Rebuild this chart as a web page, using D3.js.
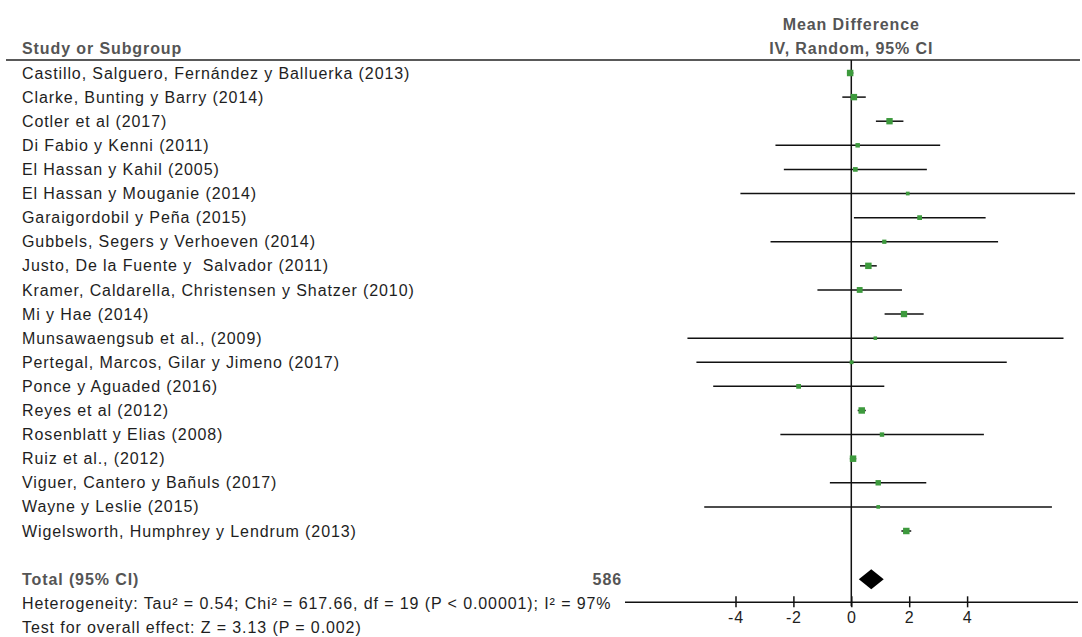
<!DOCTYPE html>
<html>
<head>
<meta charset="utf-8">
<script src="https://cdn.jsdelivr.net/npm/d3@7"></script>
<style>
  html, body { margin: 0; padding: 0; background: #fff; }
  svg { display: block; }
  text { font-family: "Liberation Sans", Arial, sans-serif; font-size: 16px; letter-spacing: 0.9px; fill: #1e1e1e; white-space: pre; }
  .hdr { font-weight: bold; fill: #555; }
</style>
</head>
<body>
<svg id="chart" width="1082" height="637"></svg>
<script>
const studies = [
  "Castillo, Salguero, Fernández y Balluerka (2013)",
  "Clarke, Bunting y Barry (2014)",
  "Cotler et al (2017)",
  "Di Fabio y Kenni (2011)",
  "El Hassan y Kahil (2005)",
  "El Hassan y Mouganie (2014)",
  "Garaigordobil y Peña (2015)",
  "Gubbels, Segers y Verhoeven (2014)",
  "Justo, De la Fuente y  Salvador (2011)",
  "Kramer, Caldarella, Christensen y Shatzer (2010)",
  "Mi y Hae (2014)",
  "Munsawaengsub et al., (2009)",
  "Pertegal, Marcos, Gilar y Jimeno (2017)",
  "Ponce y Aguaded (2016)",
  "Reyes et al (2012)",
  "Rosenblatt y Elias (2008)",
  "Ruiz et al., (2012)",
  "Viguer, Cantero y Bañuls (2017)",
  "Wayne y Leslie (2015)",
  "Wigelsworth, Humphrey y Lendrum (2013)"
];
const meanDiff = [-0.04, 0.09, 1.32, 0.22, 0.14, 1.95, 2.36, 1.14, 0.59, 0.29, 1.82, 0.83, 0.01, -1.82, 0.36, 1.06, 0.06, 0.93, 0.93, 1.90];
const ciLower  = [-0.15, -0.31, 0.85, -2.62, -2.33, -3.83, 0.09, -2.79, 0.30, -1.17, 1.15, -5.66, -5.35, -4.77, 0.22, -2.45, -0.05, -0.74, -5.08, 1.73];
const ciUpper  = [0.07, 0.50, 1.80, 3.07, 2.61, 7.73, 4.64, 5.07, 0.88, 1.75, 2.50, 7.33, 5.37, 1.14, 0.50, 4.58, 0.17, 2.59, 6.93, 2.07];
const weights  = [7.9, 7.7, 7.5, 2.4, 2.8, 1.2, 3.0, 2.0, 7.8, 5.8, 7.3, 0.9, 1.3, 3.0, 7.9, 2.3, 8.0, 4.6, 1.1, 7.9];
const total = { label: "Total (95% CI)", n: "586", md: 0.69, lo: 0.26, hi: 1.12 };
const heterogeneityText = "Heterogeneity: Tau² = 0.54; Chi² = 617.66, df = 19 (P < 0.00001); I² = 97%";
const overallText = "Test for overall effect: Z = 3.13 (P = 0.002)";
const tickValues = [-4, -2, 0, 2, 4];
const tickLabels = ["-4", "-2", "0", "2", "4"];

const svg = d3.select("#chart");
const x = d3.scaleLinear().domain([-4, 4]).range([735.5, 967.1]);
const y = d3.scaleLinear().domain([0, 19]).range([73, 531]);
const textX = 22;
const axisY = y(22) - 1;

// Header
svg.append("text").attr("class", "hdr").attr("x", x(0)).attr("y", 24).attr("dy", "0.35em")
  .attr("text-anchor", "middle").text("Mean Difference");
svg.append("text").attr("class", "hdr").attr("x", x(0)).attr("y", 48).attr("dy", "0.35em")
  .attr("text-anchor", "middle").text("IV, Random, 95% CI");
svg.append("text").attr("class", "hdr").attr("x", textX).attr("y", 48).attr("dy", "0.35em")
  .text("Study or Subgroup");
svg.append("line").attr("x1", 6).attr("x2", 1080).attr("y1", 60).attr("y2", 60)
  .attr("stroke", "#222").attr("stroke-width", 1.5);

// Study labels
svg.append("g").selectAll("text").data(studies).join("text")
  .attr("x", textX).attr("y", (d, i) => y(i)).attr("dy", "0.35em").text(d => d);

// Zero line
svg.append("line").attr("x1", x(0)).attr("x2", x(0)).attr("y1", 60).attr("y2", axisY + 4)
  .attr("stroke", "#111").attr("stroke-width", 1.5);

// CI lines
const idx = d3.range(studies.length);
svg.append("g").selectAll("line").data(idx).join("line")
  .attr("x1", i => x(ciLower[i])).attr("x2", i => x(ciUpper[i]))
  .attr("y1", i => y(i)).attr("y2", i => y(i))
  .attr("stroke", "#111").attr("stroke-width", 1.5);

// Squares
const size = d3.scaleSqrt().domain([0, 8]).range([2, 6.5]);
svg.append("g").selectAll("rect").data(idx).join("rect")
  .attr("x", i => x(meanDiff[i]) - size(weights[i]) / 2)
  .attr("y", i => y(i) - size(weights[i]) / 2)
  .attr("width", i => size(weights[i])).attr("height", i => size(weights[i]))
  .attr("fill", "#3d9a3d");

// Total row
const ty = y(21);
svg.append("text").attr("class", "hdr").attr("x", textX).attr("y", ty).attr("dy", "0.35em").text(total.label);
svg.append("text").attr("class", "hdr").attr("x", 622).attr("y", ty).attr("dy", "0.35em")
  .attr("text-anchor", "end").text(total.n);
svg.append("path")
  .attr("d", `M${x(total.lo)},${ty} L${x(total.md)},${ty - 10} L${x(total.hi)},${ty} L${x(total.md)},${ty + 10} Z`)
  .attr("fill", "#000");

svg.append("text").attr("x", textX).attr("y", y(22)).attr("dy", "0.35em").text(heterogeneityText);
svg.append("text").attr("x", textX).attr("y", y(23)).attr("dy", "0.35em").text(overallText);

// Axis
svg.append("line").attr("x1", 625).attr("x2", 1078).attr("y1", axisY).attr("y2", axisY)
  .attr("stroke", "#111").attr("stroke-width", 1.5);
const axis = d3.axisBottom(x).tickValues(tickValues).tickSize(5).tickPadding(4)
  .tickFormat((d, i) => tickLabels[i]);
const ag = svg.append("g").attr("transform", `translate(0,${axisY})`).call(axis);
ag.select(".domain").remove();
ag.selectAll(".tick line").attr("y1", -6).attr("stroke", "#111").attr("stroke-width", 1.5);
ag.selectAll(".tick text").attr("font-family", null).attr("font-size", null)
  .style("font-family", "'Liberation Sans', Arial, sans-serif").style("font-size", "16px")
  .style("fill", "#1e1e1e");
</script>
</body>
</html>
